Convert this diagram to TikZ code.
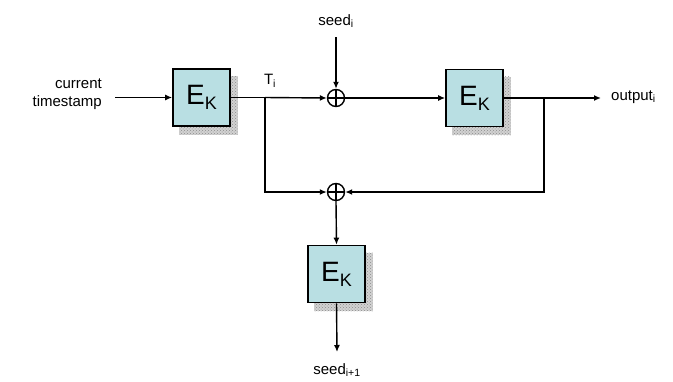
\documentclass[tikz,border=0pt]{standalone}
\usepackage{fontspec}
\setmainfont{Liberation Sans}
\usetikzlibrary{arrows.meta,patterns,calc}
\definecolor{boxfill}{RGB}{185,223,227}
\tikzset{
  wire/.style={line width=1.4pt},
  arr/.style={wire,-{Latex[length=7pt,width=6pt]}},
  ekbox/.style={draw,line width=1.6pt,fill=boxfill,minimum width=57pt,minimum height=57pt,inner sep=0pt,font=\fontsize{28}{30}\selectfont},
  xorop/.style={circle,draw,line width=1.4pt,minimum size=17pt,inner sep=0pt},
  lbl/.style={font=\fontsize{15}{18}\selectfont,inner sep=1pt},
}
% grey stippled drop shadow behind a block
\newcommand{\blockshadow}[1]{%
  \fill[gray!35] ($(#1.south west)+(7pt,-8pt)$) rectangle ($(#1.north east)+(7pt,-8pt)$);
  \fill[pattern=crosshatch dots,pattern color=gray!90] ($(#1.south west)+(7pt,-8pt)$) rectangle ($(#1.north east)+(7pt,-8pt)$);}
\newcommand{\ek}{E\raisebox{-0.32ex}{\fontsize{18}{18}\selectfont K}}
\begin{document}
\begin{tikzpicture}[x=1pt,y=-1pt]
\useasboundingbox (0,0) rectangle (673,381);
% blocks (placed invisibly first so shadows can go beneath)
\path (201.5,97.5) node[ekbox,draw=none,fill=none] (e1) {}
      (474.5,98) node[ekbox,draw=none,fill=none] (e2) {}
      (336.5,274) node[ekbox,draw=none,fill=none] (e3) {};
\blockshadow{e1}
\blockshadow{e2}
\blockshadow{e3}
\node[ekbox] at (e1) {\ek};
\node[ekbox] at (e2) {\ek};
\node[ekbox] at (e3) {\ek};
% XOR operators
\node[xorop] (x1) at (336,98) {};
\draw[wire] (x1.north)--(x1.south) (x1.west)--(x1.east);
\node[xorop] (x2) at (336,192) {};
\draw[wire] (x2.north)--(x2.south) (x2.west)--(x2.east);
% labels
\node[lbl,align=right,anchor=east] (ts) at (103,94) {current\\timestamp};
\node[lbl] (seedi) at (336,21) {seed\textsubscript{i}};
\node[lbl,anchor=west] (out) at (610,97) {output\textsubscript{i}};
\node[lbl] (seedn) at (337,370) {seed\textsubscript{i+1}};
\node[lbl] (ti) at (270,81) {T\textsubscript{i}};
% branch points
\coordinate (b1) at (265,97.5);
\coordinate (b2) at (544,98);
\coordinate (outend) at (601,98);
% connectors
\draw[arr] (115,97.5) -- (e1.west);
\draw[wire] (e1.east) -- (b1);
\draw[arr] (b1) -- (x1.west);
\draw[arr] (336,37) -- (x1.north);
\draw[arr] (x1.east) -- (e2.west);
\draw[wire] (e2.east) -- (b2);
\draw[arr] (b2) -- (outend);
\draw[arr] (b1) |- (x2.west);
\draw[arr] (b2) |- (x2.east);
\draw[arr] (x2.south) -- (e3.north);
\draw[arr] (e3.south) -- (337,352);
\end{tikzpicture}
\end{document}
